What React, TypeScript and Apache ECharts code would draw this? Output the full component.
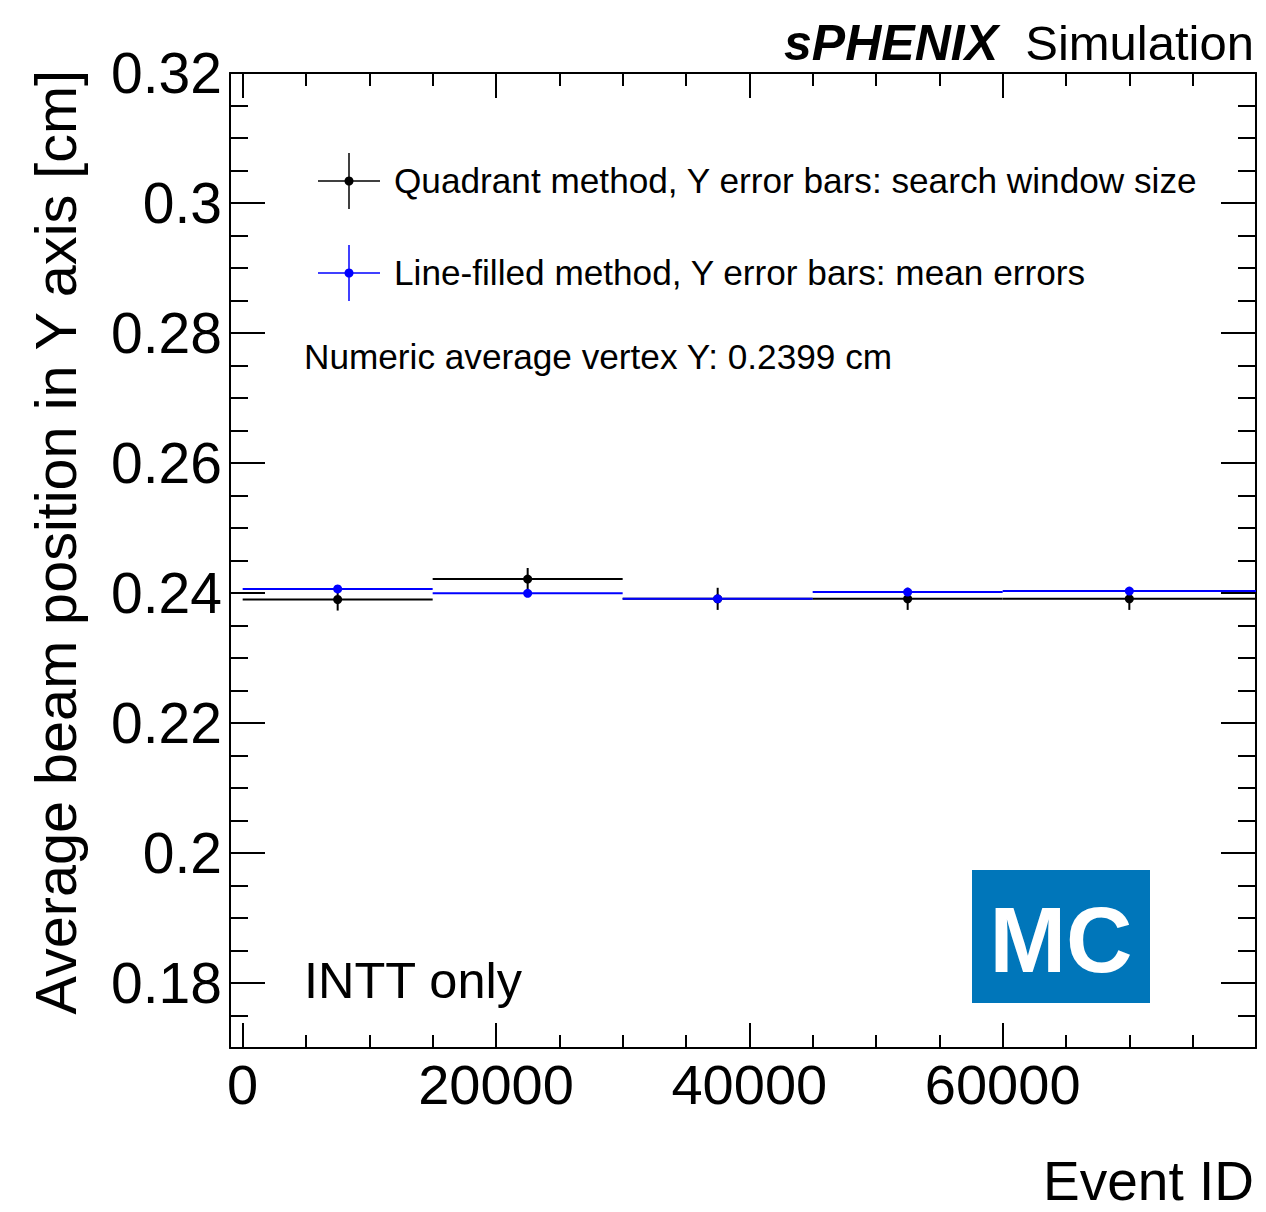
import React, { useEffect, useRef } from "react";
import * as echarts from "echarts";

const FONT = "'Liberation Sans', Arial, Helvetica, sans-serif";

// Event-ID bins
const binLow = [0, 15000, 30000, 45000, 60000];
const binHigh = [15000, 30000, 45000, 60000, 80000];
const binCenter = [7500, 22500, 37500, 52500, 70000];

// Quadrant method (black)
const quadrantY = [0.2390, 0.24215, 0.2391, 0.2391, 0.2391];
const quadrantErr = [0.0017, 0.0017, 0.0017, 0.0017, 0.0017];

// Line-filled method (blue)
const lineFilledY = [0.24062, 0.23995, 0.2391, 0.24015, 0.2403];
const lineFilledErr = [0.0002, 0.0002, 0.0002, 0.0002, 0.0002];

// Axes
const xMin = -1000;
const xMax = 80000;
const yMin = 0.17;
const yMax = 0.32;
const xMajorTicks = [0, 20000, 40000, 60000];
const xMinorTicks = [5000, 10000, 15000, 25000, 30000, 35000, 45000, 50000, 55000, 65000, 70000, 75000];
const yMajorTicks = [0.18, 0.2, 0.22, 0.24, 0.26, 0.28, 0.3, 0.32];
const yMinorTicks = [0.175, 0.185, 0.19, 0.195, 0.205, 0.21, 0.215, 0.225, 0.23, 0.235, 0.245, 0.25, 0.255, 0.265, 0.27, 0.275, 0.285, 0.29, 0.295, 0.305, 0.31, 0.315];

function makeSeries(name: string, color: string, ys: number[], errs: number[]) {
  const data = binLow.map((lo, i) => [lo, binHigh[i], binCenter[i], ys[i], errs[i]]);
  return {
    type: "custom",
    name,
    xAxisIndex: 0,
    yAxisIndex: 0,
    data,
    encode: { x: [0, 1, 2], y: [3] },
    renderItem: (_params: any, api: any) => {
      const y = api.value(3);
      const e = api.value(4);
      const lo = api.coord([api.value(0), y]);
      const hi = api.coord([api.value(1), y]);
      const c = api.coord([api.value(2), y]);
      const top = api.coord([api.value(2), y + e]);
      const bot = api.coord([api.value(2), y - e]);
      return {
        type: "group",
        children: [
          { type: "line", shape: { x1: lo[0], y1: lo[1], x2: hi[0], y2: hi[1] }, style: { stroke: color, lineWidth: 2 } },
          { type: "line", shape: { x1: c[0], y1: top[1], x2: c[0], y2: bot[1] }, style: { stroke: color, lineWidth: 2 } },
          { type: "circle", shape: { cx: c[0], cy: c[1], r: 4.5 }, style: { fill: color } },
        ],
      };
    },
  };
}

function axisBase(extra: any) {
  return {
    type: "value",
    gridIndex: 0,
    splitLine: { show: false },
    ...extra,
  };
}

export default function App() {
  const ref = useRef<HTMLDivElement>(null);
  useEffect(() => {
    if (!ref.current) return;
    const chart = echarts.init(ref.current, null, { renderer: "svg" });
    const lineStyle = { color: "#000", width: 2 };
    const xCommon = { min: xMin, max: xMax };
    const yCommon = { min: yMin, max: yMax };
    const option: any = {
      animation: false,
      backgroundColor: "#fff",
      grid: { left: 230, right: 10, top: 73, bottom: 164, containLabel: false },
      xAxis: [
        axisBase({
          ...xCommon,
          position: "bottom",
          axisLine: { show: true, onZero: false, lineStyle },
          axisTick: { show: true, inside: true, length: 25, customValues: xMajorTicks, lineStyle },
          axisLabel: {
            show: true,
            customValues: xMajorTicks,
            margin: 8,
            fontSize: 56,
            fontFamily: FONT,
            color: "#000",
            formatter: (v: number) => String(v),
          },
        }),
        axisBase({
          ...xCommon,
          position: "bottom",
          axisLine: { show: false, onZero: false },
          axisTick: { show: true, inside: true, length: 13, customValues: xMinorTicks, lineStyle },
          axisLabel: { show: false },
        }),
        axisBase({
          ...xCommon,
          position: "top",
          axisLine: { show: true, onZero: false, lineStyle },
          axisTick: { show: true, inside: true, length: 25, customValues: xMajorTicks, lineStyle },
          axisLabel: { show: false },
        }),
        axisBase({
          ...xCommon,
          position: "top",
          axisLine: { show: false, onZero: false },
          axisTick: { show: true, inside: true, length: 13, customValues: xMinorTicks, lineStyle },
          axisLabel: { show: false },
        }),
      ],
      yAxis: [
        axisBase({
          ...yCommon,
          position: "left",
          axisLine: { show: true, onZero: false, lineStyle },
          axisTick: { show: true, inside: true, length: 35, customValues: yMajorTicks, lineStyle },
          axisLabel: {
            show: true,
            customValues: yMajorTicks,
            margin: 8,
            fontSize: 57,
            fontFamily: FONT,
            color: "#000",
            formatter: (v: number) => String(parseFloat(Number(v).toFixed(3))),
          },
        }),
        axisBase({
          ...yCommon,
          position: "left",
          axisLine: { show: false, onZero: false },
          axisTick: { show: true, inside: true, length: 18, customValues: yMinorTicks, lineStyle },
          axisLabel: { show: false },
        }),
        axisBase({
          ...yCommon,
          position: "right",
          axisLine: { show: true, onZero: false, lineStyle },
          axisTick: { show: true, inside: true, length: 35, customValues: yMajorTicks, lineStyle },
          axisLabel: { show: false },
        }),
        axisBase({
          ...yCommon,
          position: "right",
          axisLine: { show: false, onZero: false },
          axisTick: { show: true, inside: true, length: 18, customValues: yMinorTicks, lineStyle },
          axisLabel: { show: false },
        }),
      ],
      series: [
        makeSeries("Quadrant method", "#000000", quadrantY, quadrantErr),
        makeSeries("Line-filled method", "#0000ff", lineFilledY, lineFilledErr),
      ],
      graphic: [
        // Top title
        { type: "text", x: 1254, y: 43, style: { text: "Simulation", fontSize: 49, fontFamily: FONT, fill: "#000", align: "right", verticalAlign: "middle" } },
        { type: "text", x: 998, y: 43, style: { text: "sPHENIX", fontSize: 50, fontWeight: "bold", fontStyle: "italic", fontFamily: FONT, fill: "#000", align: "right", verticalAlign: "middle" } },
        // Y axis title
        { type: "text", x: 56, y: 70, rotation: Math.PI / 2, style: { text: "Average beam position in Y axis [cm]", fontSize: 57.6, fontFamily: FONT, fill: "#000", align: "right", verticalAlign: "middle" } },
        // X axis title
        { type: "text", x: 1254, y: 1181, style: { text: "Event ID", fontSize: 55, lineHeight: 46, fontFamily: FONT, fill: "#000", align: "right", verticalAlign: "middle" } },
        // Legend entry 1
        { type: "line", shape: { x1: 318, y1: 181, x2: 380, y2: 181 }, style: { stroke: "#000", lineWidth: 1.5 } },
        { type: "line", shape: { x1: 349, y1: 153, x2: 349, y2: 209 }, style: { stroke: "#000", lineWidth: 1.5 } },
        { type: "circle", shape: { cx: 349, cy: 181, r: 4.5 }, style: { fill: "#000" } },
        { type: "text", x: 394, y: 180, style: { text: "Quadrant method, Y error bars: search window size", fontSize: 35.2, fontFamily: FONT, fill: "#000", align: "left", verticalAlign: "middle" } },
        // Legend entry 2
        { type: "line", shape: { x1: 318, y1: 273, x2: 380, y2: 273 }, style: { stroke: "#0000ff", lineWidth: 1.5 } },
        { type: "line", shape: { x1: 349, y1: 245, x2: 349, y2: 301 }, style: { stroke: "#0000ff", lineWidth: 1.5 } },
        { type: "circle", shape: { cx: 349, cy: 273, r: 4.5 }, style: { fill: "#0000ff" } },
        { type: "text", x: 394, y: 272, style: { text: "Line-filled method, Y error bars: mean errors", fontSize: 35.2, fontFamily: FONT, fill: "#000", align: "left", verticalAlign: "middle" } },
        // Annotation
        { type: "text", x: 304, y: 356, style: { text: "Numeric average vertex Y: 0.2399 cm", fontSize: 35.2, fontFamily: FONT, fill: "#000", align: "left", verticalAlign: "middle" } },
        { type: "text", x: 304, y: 980, style: { text: "INTT only", fontSize: 50.5, fontFamily: FONT, fill: "#000", align: "left", verticalAlign: "middle" } },
        // MC box
        { type: "rect", shape: { x: 972, y: 870, width: 178, height: 133 }, style: { fill: "#0076ba" } },
        { type: "text", x: 1061, y: 940, style: { text: "MC", fontSize: 92, fontWeight: "bold", fontFamily: FONT, fill: "#fff", align: "center", verticalAlign: "middle" } },
      ],
    };
    chart.setOption(option);
    return () => chart.dispose();
  }, []);
  return (
    <div
      ref={ref}
      style={{ position: "absolute", left: 0, top: 0, width: 1266, height: 1212, background: "#fff" }}
    />
  );
}
